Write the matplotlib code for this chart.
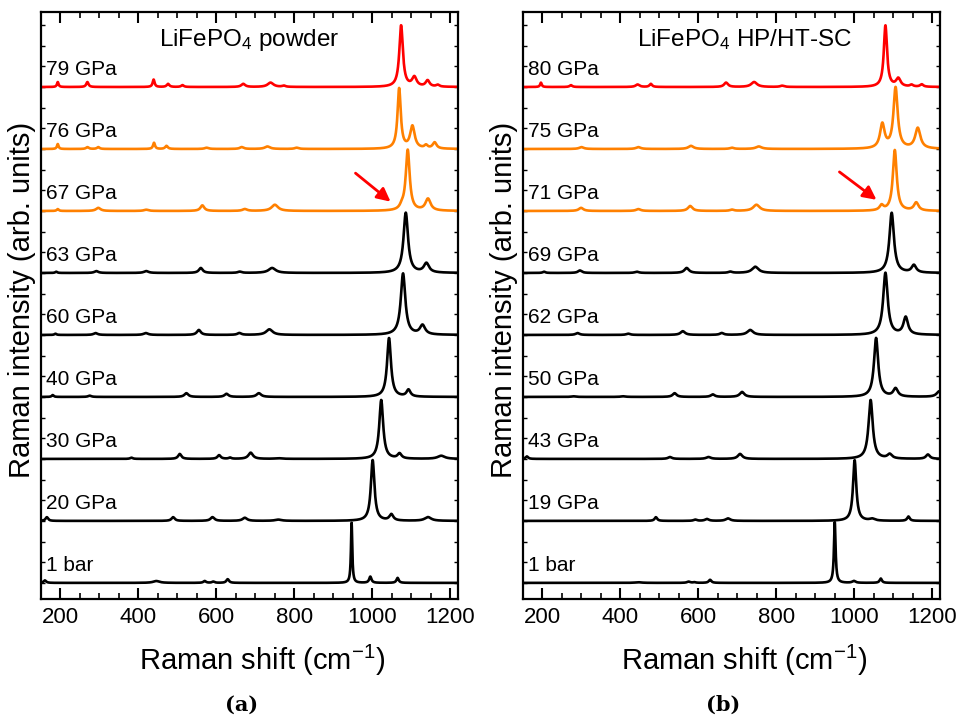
import matplotlib
matplotlib.use('Agg')
import matplotlib.pyplot as plt
import numpy as np
from matplotlib.ticker import MultipleLocator

plt.rcParams['font.family'] = ['Liberation Sans', 'DejaVu Sans']
plt.rcParams['mathtext.fontset'] = 'custom'
plt.rcParams['mathtext.rm'] = 'Liberation Sans'
plt.rcParams['mathtext.it'] = 'Liberation Sans:italic'
plt.rcParams['mathtext.bf'] = 'Liberation Sans:bold'

RED = '#ff0000'
ORANGE = '#ff8000'
BLACK = '#000000'

# peaks: (position cm-1, height, FWHM), bottom spectrum first
powder_labels = ['1 bar', '20 GPa', '30 GPa', '40 GPa', '60 GPa', '63 GPa',
                 '67 GPa', '76 GPa', '79 GPa']
powder_colors = [BLACK] * 6 + [ORANGE, ORANGE, RED]
powder_peaks = [
    [(947, 0.97, 4), (995, 0.10, 7), (1065, 0.08, 7), (160, 0.04, 8),
     (446, 0.03, 20), (570, 0.03, 8), (592, 0.02, 8), (629, 0.06, 8)],
    [(1001, 0.98, 11), (1049, 0.10, 12), (1143, 0.06, 20), (165, 0.06, 8),
     (489, 0.06, 10), (590, 0.06, 12), (673, 0.05, 14), (759, 0.02, 20)],
    [(1023, 0.95, 12), (1070, 0.08, 12), (1177, 0.05, 22), (382, 0.02, 8),
     (506, 0.08, 10), (607, 0.06, 10), (635, 0.02, 8), (688, 0.10, 14),
     (759, 0.01, 20)],
    [(1043, 0.95, 12), (1093, 0.11, 12), (180, 0.03, 6), (275, 0.02, 10),
     (523, 0.06, 12), (626, 0.05, 12), (709, 0.06, 14)],
    [(1079, 0.99, 14), (1129, 0.15, 16), (187, 0.02, 6), (290, 0.03, 12),
     (419, 0.03, 14), (555, 0.08, 12), (659, 0.03, 12), (736, 0.09, 20)],
    [(1086, 0.97, 14), (1139, 0.15, 16), (189, 0.02, 6), (292, 0.03, 12),
     (420, 0.03, 14), (560, 0.08, 12), (660, 0.02, 12), (743, 0.08, 22)],
    [(1091, 0.98, 12), (1143, 0.19, 16), (1076, 0.05, 12), (193, 0.03, 6),
     (297, 0.05, 14), (420, 0.02, 14), (564, 0.09, 12), (673, 0.03, 14),
     (750, 0.10, 20)],
    [(1069, 0.97, 10), (1103, 0.36, 14), (1138, 0.05, 10), (1160, 0.10, 12),
     (193, 0.08, 5), (269, 0.03, 8), (297, 0.03, 8), (440, 0.10, 6),
     (472, 0.05, 8), (575, 0.02, 12), (665, 0.03, 12), (731, 0.04, 16),
     (806, 0.02, 12)],
    [(1074, 0.99, 11), (1108, 0.15, 14), (1142, 0.10, 12), (1168, 0.03, 10),
     (193, 0.08, 5), (269, 0.08, 7), (439, 0.12, 6), (476, 0.05, 8),
     (513, 0.03, 8), (669, 0.05, 12), (739, 0.07, 18), (773, 0.02, 10)],
]

sc_labels = ['1 bar', '19 GPa', '43 GPa', '50 GPa', '62 GPa', '69 GPa',
             '71 GPa', '75 GPa', '80 GPa']
sc_colors = [BLACK] * 6 + [ORANGE, ORANGE, RED]
sc_peaks = [
    [(950, 0.98, 5), (999, 0.03, 10), (1068, 0.07, 7), (446, 0.01, 20),
     (575, 0.02, 10), (590, 0.01, 8), (630, 0.05, 8)],
    [(1001, 0.98, 10), (1046, 0.03, 16), (1139, 0.07, 8), (491, 0.06, 8),
     (592, 0.02, 10), (622, 0.03, 12), (676, 0.04, 14)],
    [(1042, 0.95, 13), (1091, 0.07, 14), (1189, 0.07, 12), (160, 0.04, 8),
     (527, 0.03, 12), (626, 0.03, 14), (707, 0.08, 14)],
    [(1056, 0.95, 13), (1106, 0.13, 14), (1218, 0.09, 16), (279, 0.01, 12),
     (407, 0.01, 14), (539, 0.06, 12), (637, 0.04, 12), (712, 0.08, 14)],
    [(1080, 1.00, 14), (1132, 0.28, 14), (290, 0.03, 12), (420, 0.02, 12),
     (560, 0.06, 14), (660, 0.03, 12), (733, 0.08, 18)],
    [(1096, 0.97, 14), (1153, 0.12, 14), (204, 0.02, 8), (296, 0.04, 12),
     (442, 0.02, 12), (570, 0.08, 14), (682, 0.02, 12), (746, 0.10, 20)],
    [(1104, 0.98, 12), (1070, 0.08, 12), (1159, 0.13, 14), (299, 0.05, 14),
     (446, 0.03, 14), (579, 0.08, 14), (686, 0.02, 12), (749, 0.10, 20)],
    [(1106, 0.98, 13), (1072, 0.39, 14), (1163, 0.33, 16), (300, 0.03, 14),
     (446, 0.03, 14), (581, 0.05, 16), (686, 0.02, 12), (755, 0.04, 18)],
    [(1080, 0.99, 10), (1113, 0.13, 14), (1147, 0.03, 10), (1173, 0.04, 10),
     (196, 0.07, 5), (273, 0.03, 8), (444, 0.04, 12), (478, 0.05, 8),
     (671, 0.07, 12), (743, 0.08, 18), (815, 0.02, 12)],
]

panel_titles = ['LiFePO$_4$ powder', 'LiFePO$_4$ HP/HT-SC']
panel_tags = ['(a)', '(b)']
arrows = [((957, 6.61), (1047, 6.15)), ((962, 6.63), (1057, 6.18))]

shift = np.linspace(152, 1220, 2200)


def spectrum(x, peaks):
    y = np.zeros_like(x)
    for c, h, w in peaks:
        y += h / (1 + ((x - c) / (w / 2)) ** 2)
    return y


fig = plt.figure(figsize=(9.61, 7.15), dpi=100)
panels = [(powder_labels, powder_colors, powder_peaks),
          (sc_labels, sc_colors, sc_peaks)]
lefts = [41 / 961, 523 / 961]

for i, (labels, colors, peaks) in enumerate(panels):
    ax = fig.add_axes([lefts[i], 1 - 599 / 715, 417 / 961, 587 / 715])
    for k, (lab, col, pk) in enumerate(zip(labels, colors, peaks)):
        ax.plot(shift, k + spectrum(shift, pk), color=col, lw=1.9)
        ax.text(162, k + 0.19, lab, fontsize=15, va='baseline', ha='left')

    ax.set_xlim(150, 1220)
    ax.set_ylim(-0.26, 9.21)
    ax.xaxis.set_major_locator(MultipleLocator(200))
    ax.xaxis.set_minor_locator(MultipleLocator(50))
    ax.yaxis.set_major_locator(MultipleLocator(1 / 3))
    ax.tick_params(axis='x', which='major', direction='in', top=True,
                   length=8, width=1.5, labelsize=16, pad=6)
    ax.tick_params(axis='x', which='minor', direction='in', top=True,
                   length=4, width=1.2)
    ax.tick_params(axis='y', which='major', direction='in', left=True,
                   right=True, length=3, width=1.0, labelleft=False)
    for sp in ax.spines.values():
        sp.set_linewidth(1.6)

    ax.set_xlabel('Raman shift (cm$^{-1}$)', fontsize=21)
    ax.xaxis.set_label_coords(0.53, -0.075)
    ax.set_ylabel('Raman intensity (arb. units)', fontsize=21, va='center')
    ax.yaxis.set_label_coords(-0.045, 0.51)

    ax.text(0.5 if i == 0 else 0.53, 8.66, panel_titles[i], fontsize=17.5,
            ha='center', va='baseline',
            transform=ax.get_yaxis_transform())
    (x0, y0), (x1, y1) = arrows[i]
    ax.annotate('', xy=(x1, y1), xytext=(x0, y0),
                arrowprops=dict(arrowstyle='-|>', color=RED, lw=2,
                                mutation_scale=20, shrinkA=0, shrinkB=0))
    ax.text(0.48, -0.18, panel_tags[i], transform=ax.transAxes,
            ha='center', va='center', fontsize=15, fontweight='bold',
            family='DejaVu Serif')

fig.savefig('out.png', dpi=100)
